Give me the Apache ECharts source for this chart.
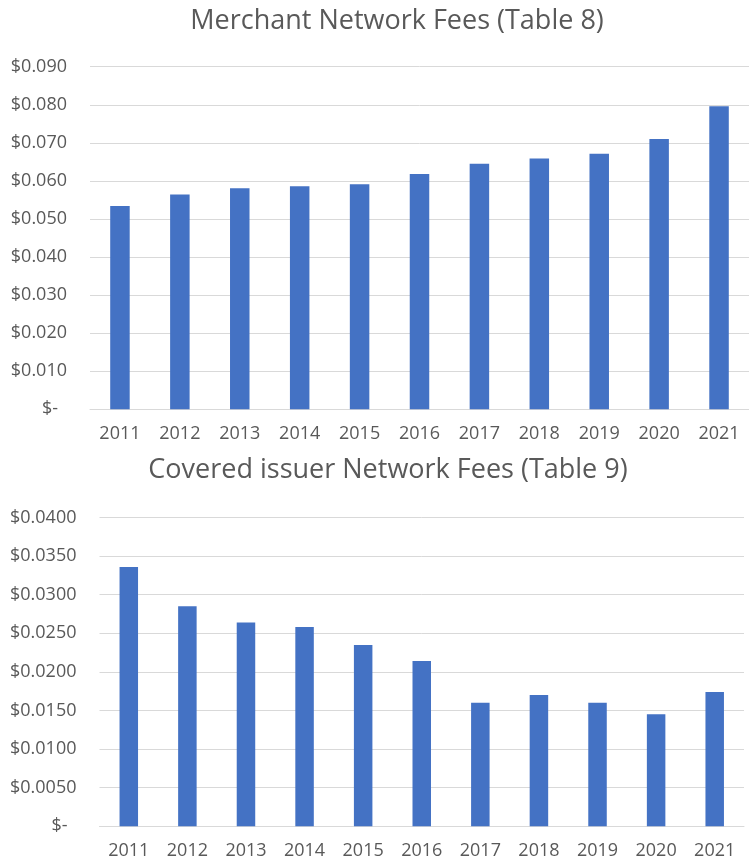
<!DOCTYPE html>
<html>
<head>
<meta charset="utf-8">
<script src="https://cdn.jsdelivr.net/npm/echarts@6/dist/echarts.min.js"></script>
<style>
html,body{margin:0;padding:0;background:#fff;}
#chart{width:749px;height:861px;}
</style>
</head>
<body>
<div id="chart"></div>
<script>
const years = ['2011','2012','2013','2014','2015','2016','2017','2018','2019','2020','2021'];
const merchantFees = [0.0534, 0.0564, 0.0581, 0.0586, 0.0591, 0.0618, 0.0645, 0.0659, 0.0671, 0.0710, 0.0796];
const issuerFees = [0.0336, 0.0285, 0.0264, 0.0258, 0.0235, 0.0214, 0.0160, 0.0170, 0.0160, 0.0145, 0.0174];
const titleTop = 'Merchant Network Fees (Table 8)';
const titleBottom = 'Covered issuer Network Fees (Table 9)';

const FONT = '"Open Sans", sans-serif';
const TXT = '#595959';
const GRID = '#d9d9d9';
const BAR = '#4472C4';
const LBL = 18;

function yLabel(dec) {
  return function (v) {
    if (Math.abs(v) < 1e-12) return '{d|$-}';
    return '$' + v.toFixed(dec);
  };
}

const chart = echarts.init(document.getElementById('chart'), null, {renderer: 'canvas'});
chart.setOption({
  animation: false,
  backgroundColor: '#fff',
  textStyle: {fontFamily: FONT},
  title: [
    {text: titleTop, left: 392, top: 3, textAlign: 'center',
     textStyle: {fontFamily: FONT, fontSize: 27, fontWeight: 'normal', color: TXT}},
    {text: titleBottom, left: 383, top: 452, textAlign: 'center',
     textStyle: {fontFamily: FONT, fontSize: 27, fontWeight: 'normal', color: TXT}}
  ],
  grid: [
    {left: 90, top: 66.7, width: 671.5, height: 342.6, containLabel: false},
    {left: 99.5, top: 517.5, width: 644.5, height: 308.8, containLabel: false}
  ],
  xAxis: [
    {type: 'category', gridIndex: 0, data: years,
     axisLine: {lineStyle: {color: GRID, width: 1}}, axisTick: {show: false},
     axisLabel: {color: TXT, fontSize: LBL, fontFamily: FONT, margin: 16}},
    {type: 'category', gridIndex: 1, data: years,
     axisLine: {lineStyle: {color: GRID, width: 1}}, axisTick: {show: false},
     axisLabel: {color: TXT, fontSize: LBL, fontFamily: FONT, margin: 16}}
  ],
  yAxis: [
    {type: 'value', gridIndex: 0, min: 0, max: 0.09, interval: 0.01,
     axisLine: {show: false}, axisTick: {show: false},
     splitLine: {lineStyle: {color: GRID, width: 1}},
     axisLabel: {color: TXT, fontSize: LBL, fontFamily: FONT, margin: 23, formatter: yLabel(3),
       rich: {d: {color: TXT, fontSize: LBL, fontFamily: FONT, padding: [0, 9, 0, 0]}}}},
    {type: 'value', gridIndex: 1, min: 0, max: 0.04, interval: 0.005,
     axisLine: {show: false}, axisTick: {show: false},
     splitLine: {lineStyle: {color: GRID, width: 1}},
     axisLabel: {color: TXT, fontSize: LBL, fontFamily: FONT, margin: 23, formatter: yLabel(4),
       rich: {d: {color: TXT, fontSize: LBL, fontFamily: FONT, padding: [0, 9, 0, 0]}}}}
  ],
  series: [
    {type: 'bar', xAxisIndex: 0, yAxisIndex: 0, data: merchantFees, barWidth: 19.5,
     itemStyle: {color: BAR}},
    {type: 'bar', xAxisIndex: 1, yAxisIndex: 1, data: issuerFees, barWidth: 18.5,
     itemStyle: {color: BAR}}
  ]
});
</script>
</body>
</html>
